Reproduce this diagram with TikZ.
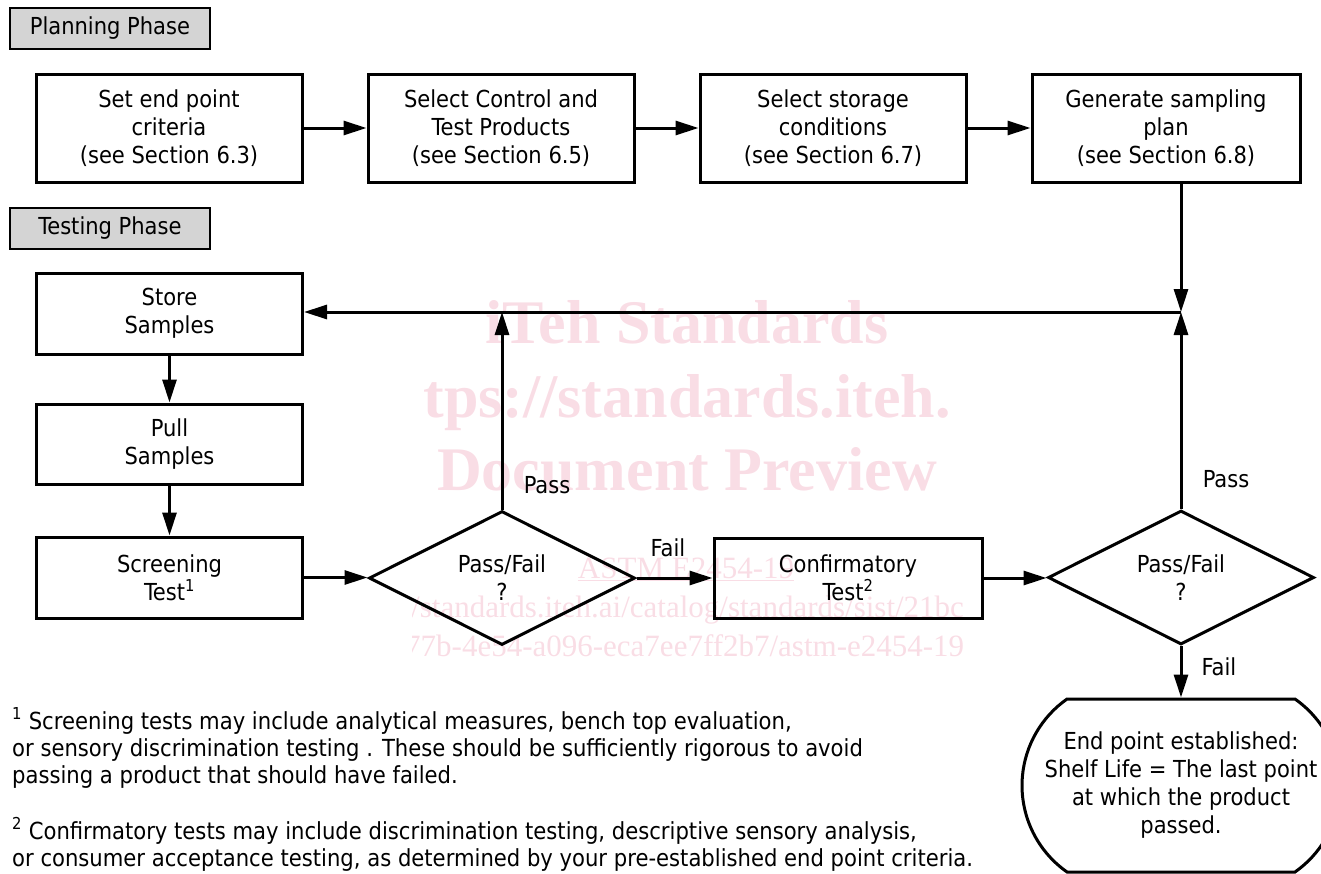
\documentclass[tikz,border=0pt]{standalone}
\usepackage{fontspec}
\setmainfont{DejaVu Sans Condensed}
\newfontfamily\wmfont{Liberation Serif}
\usetikzlibrary{arrows.meta,shapes.geometric,shapes.misc}
\definecolor{wmpink}{RGB}{249,221,229}
\definecolor{phasegray}{RGB}{212,212,212}
\newcommand{\mainfs}{\fontsize{23.4}{28}\selectfont}
\newcommand{\notefs}{\fontsize{23.5}{27.5}\selectfont}
\begin{document}
\begin{tikzpicture}[x=1pt,y=-1pt,
  every node/.style={font=\mainfs},
  box/.style={draw, line width=3pt, minimum width=266pt, minimum height=108pt, align=center, inner sep=0pt},
  sbox/.style={box, minimum height=81pt},
  phase/.style={draw, fill=phasegray, line width=2.6pt, minimum width=200pt, minimum height=41pt, inner sep=0pt},
  decision/.style={draw, diamond, line width=3pt, minimum width=266pt, minimum height=128pt, inner sep=0pt, align=center},
  terminal/.style={draw, rounded rectangle, rounded rectangle arc length=110, line width=3pt, minimum width=318pt, minimum height=173pt, align=center, inner sep=0pt},
  arr/.style={line width=3pt, -{Triangle[length=23pt,width=14pt]}},
  lbl/.style={inner sep=0pt},
  fn/.style={anchor=base west, inner sep=0pt, font=\notefs},
  wmbig/.style={text=wmpink, font=\wmfont\bfseries\fontsize{62}{62}\selectfont, inner sep=0pt, anchor=base},
  wmsmall/.style={text=wmpink, font=\wmfont\fontsize{31}{31}\selectfont, inner sep=0pt},
]
\useasboundingbox (0,0) rectangle (1321,873);

% watermark
\begin{scope}
\clip (412,270) rectangle (962,680);
\node[wmbig] (wm1) at (687,343) {iTeh Standards};
\node[wmbig] (wm2) at (687,417) {tps://standards.iteh.};
\node[wmbig] (wm3) at (687,490) {Document Preview};
\node[wmsmall, anchor=base] (wm4) at (686,578) {\underline{ASTM E2454-19}};
\node[wmsmall, anchor=base west] (wm5) at (411,617) {/standards.iteh.ai/catalog/standards/sist/21bc3};
\node[wmsmall, anchor=base west] (wm6) at (405,656) {77b-4e54-a096-eca7ee7ff2b7/astm-e2454-19};
\end{scope}

% phase headers
\node[phase] (pp) at (110,28.5) {Planning Phase};
\node[phase] (tp) at (110,228.5) {Testing Phase};

% planning row
\node[box] (b1) at (169,128) {Set end point\\criteria\\(see Section 6.3)};
\node[box] (b2) at (501,128) {Select Control and\\Test Products\\(see Section 6.5)};
\node[box] (b3) at (833,128) {Select storage\\conditions\\(see Section 6.7)};
\node[box, minimum width=268pt] (b4) at (1166,128) {Generate sampling\\plan\\(see Section 6.8)};

% testing
\node[sbox] (store) at (169.5,313.5) {Store\\Samples};
\node[sbox, minimum height=80pt] (pull) at (169.5,444) {Pull\\Samples};
\node[sbox] (screen) at (169.5,577.5) {Screening\\Test\textsuperscript{1}};
\node[decision] (d1) at (502,578) {Pass/Fail\\?};
\node[sbox, minimum width=268pt, minimum height=80pt] (conf) at (848,578) {Confirmatory\\Test\textsuperscript{2}};
\node[decision, minimum height=127pt] (d2) at (1181,577.5) {Pass/Fail\\?};
\node[terminal] (end) at (1181,785.5) {End point established:\\Shelf Life = The last point\\at which the product\\passed.};

\coordinate (j) at (1181,312);

% connectors
\draw[arr] (b1.east) -- (b2.west);
\draw[arr] (b2.east) -- (b3.west);
\draw[arr] (b3.east) -- (b4.west);
\draw[arr] (b4.south -| j) -- (j);
\draw[arr] (d2.north) -- (j);
\draw[arr] (j) -- (j -| store.east);
\draw[arr] (d1.north) -- (d1.north |- j);
\draw[arr] (store.south) -- (pull.north);
\draw[arr] (pull.south) -- (screen.north);
\draw[arr] (screen.east) -- (screen.east -| d1.west);
\draw[arr] (d1.east) -- (d1.east -| conf.west);
\draw[arr] (conf.east) -- (conf.east -| d2.west);
\draw[arr] (d2.south) -- (end.north);

% labels
\node[lbl] (pass1) at (547,485) {Pass};
\node[lbl] (fail1) at (668,548) {Fail};
\node[lbl] (pass2) at (1226,479) {Pass};
\node[lbl] (fail2) at (1219,667) {Fail};

% footnotes
\node[fn] (f1a) at (12,729) {\textsuperscript{1} Screening tests may include analytical measures, bench top evaluation,};
\node[fn] (f1b) at (12,756) {or sensory discrimination testing . These should be sufficiently rigorous to avoid};
\node[fn] (f1c) at (12,783) {passing a product that should have failed.};
\node[fn] (f2a) at (12,839) {\textsuperscript{2} Confirmatory tests may include discrimination testing, descriptive sensory analysis,};
\node[fn] (f2b) at (12,866) {or consumer acceptance testing, as determined by your pre-established end point criteria.};
\end{tikzpicture}
\end{document}
